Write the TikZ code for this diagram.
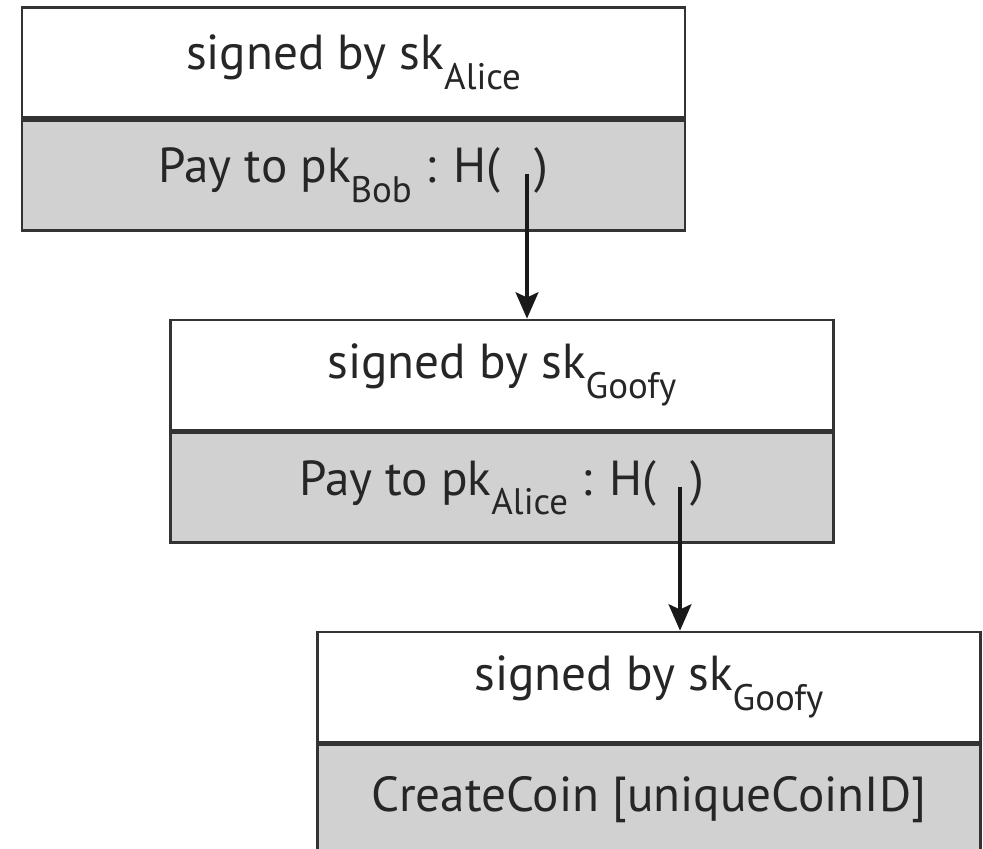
\documentclass[tikz,border=0pt]{standalone}
\usepackage{fontspec}
\setmainfont{PT Sans}
\usetikzlibrary{arrows.meta, positioning}
\newcommand{\lowsub}[1]{\raisebox{-0.4em}{\fontsize{21}{23}\selectfont #1}}
\tikzset{
    sigrow/.style = { draw=black!80, line width=1.6pt, fill=white, minimum width=13.26cm,
                      minimum height=2.2cm, inner sep=0pt, text=black!85,
                      font=\fontsize{28}{32}\selectfont },
    payrow/.style = { sigrow, fill=black!18 },
    hashlink/.style = { line width=2pt, black!90, -{Stealth[length=15pt, width=13pt, inset=3pt]} }
}
\begin{document}
\begin{tikzpicture}[x=0.02cm, y=-0.02cm]
    \useasboundingbox (0,0) rectangle (983,848);

    %%% Alice's coin, signed by Alice
    \node[sigrow] (sigA) at (353.5,62.5) {signed by sk\lowsub{Alice}};
    \node[payrow, below=0pt of sigA] (payA) {Pay to pk\lowsub{Bob} : H(\hspace{0.7em})};
    \coordinate (hashA) at (527,174);

    %%% Goofy's coin, given to Alice
    \node[sigrow] (sigB) at (502,375) {signed by sk\lowsub{Goofy}};
    \node[payrow, below=0pt of sigB] (payB) {Pay to pk\lowsub{Alice} : H(\hspace{0.7em})};
    \coordinate (hashB) at (680,487);

    %%% Coin creation
    \node[sigrow] (sigC) at (649,687) {signed by sk\lowsub{Goofy}};
    \node[payrow, below=0pt of sigC] (coinC) {CreateCoin [uniqueCoinID]};

    % Hash pointers
    \draw[hashlink] (hashA) -- (hashA |- sigB.north);
    \draw[hashlink] (hashB) -- (hashB |- sigC.north);
\end{tikzpicture}
\end{document}
